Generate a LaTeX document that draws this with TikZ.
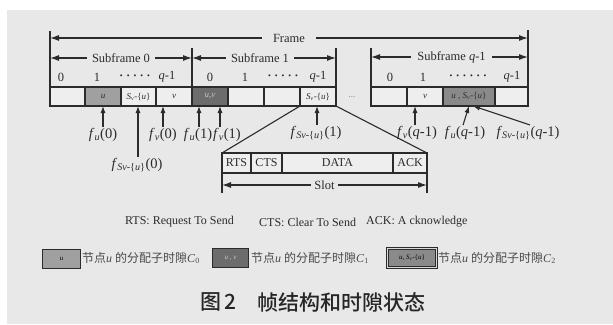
\documentclass[tikz,border=0pt]{standalone}
\usepackage{fontspec}
\setmainfont{Liberation Serif}
\newfontfamily\cjk{Noto Sans CJK SC}
\newfontfamily\cjkm{Noto Sans CJK SC}[UprightFont={* Medium}]
\usetikzlibrary{arrows.meta}
\definecolor{bg}{HTML}{E8E8E8}
\definecolor{ln}{HTML}{2B2B2B}
\definecolor{cellw}{HTML}{EEEEEE}
\definecolor{gA}{HTML}{A0A0A0}
\definecolor{gB}{HTML}{6C6C6C}
\definecolor{gC}{HTML}{8A8A8A}
\definecolor{legtxt}{HTML}{4A4A4A}
\newcommand\Svu{\textit{S}\textsubscript{\textit{v}}-\{\textit{u}\}}
\newcommand\flab[2]{\textit{f}\textsubscript{#1}(#2)}
\newcommand\subSvu{\textit{Sv}-\{\textit{u}\}}
\begin{document}
\begin{tikzpicture}[x=1pt,y=-1pt,
  cell/.style={draw=ln, line width=1.1pt, fill=cellw, anchor=north west,
    minimum height=19pt, inner sep=0pt, outer sep=0pt,
    font=\fontsize{9}{10}\selectfont, text=ln},
  scell/.style={cell, minimum height=20pt, font=\fontsize{12}{13}\selectfont},
  rowlab/.style={font=\fontsize{12.5}{13}\selectfont, text=ln, inner sep=0pt},
  dots/.style={font=\fontsize{8}{9}\selectfont, text=ln, inner sep=0pt},
  flabel/.style={font=\fontsize{14.5}{15}\selectfont, text=ln, inner sep=1pt},
  dimarr/.style={draw=ln, line width=1.1pt, {Latex[length=9pt,width=6pt]}-{Latex[length=9pt,width=6pt]}},
  dimtxt/.style={fill=bg, font=\fontsize{12.5}{13}\selectfont, text=ln, inner ysep=1pt},
  arr/.style={draw=ln, line width=1.1pt, -{Latex[length=7pt,width=5pt]}},
  ln/.style={draw=ln, line width=1.1pt},
  legbox/.style={draw=ln, line width=1pt, anchor=north west, inner sep=0pt,
    minimum height=19pt, font=\fontsize{7}{8}\selectfont},
  legtext/.style={anchor=west, inner sep=0pt, text=legtxt, font=\fontsize{12}{13}\selectfont}
]
\useasboundingbox (0,0) rectangle (613,324);
\fill[white] (0,0) rectangle (613,324);
\fill[bg] (7,10) rectangle (613,324);

% ---- slot row, subframe 0
\node[cell, minimum width=35pt] (c00) at (50,87) {};
\node[cell, minimum width=36pt, fill=gA] (c01) at (85,87) {\textit{u}};
\node[cell, minimum width=35pt] (c02) at (121,87) {\Svu};
\node[cell, minimum width=36pt] (c03) at (156,87) {\textit{v}};
% subframe 1
\node[cell, minimum width=36pt, fill=gB, text=gray!45] (c10) at (192,87) {\textit{u},\textit{v}};
\node[cell, minimum width=36pt] (c11) at (228,87) {};
\node[cell, minimum width=36pt] (c12) at (264,87) {};
\node[cell, minimum width=36pt] (c13) at (300,87) {\Svu};
\node[font=\fontsize{9}{10}\selectfont, text=gray] (gap) at (352,97) {...};
% subframe q-1
\node[cell, minimum width=36pt] (c20) at (371,87) {};
\node[cell, minimum width=36pt] (c21) at (407,87) {\textit{v}};
\node[cell, minimum width=52pt, fill=gC] (c22) at (443,87) {\textit{u} , \Svu};
\node[cell, minimum width=33pt] (c23) at (495,87) {};

% ---- verticals
\draw[ln] (c00.south west) -- (c00.south west |- 0,31);
\draw[ln] (c23.south east) -- (c23.south east |- 0,30);
\draw[ln] (c03.south east) -- (c03.south east |- 0,48);
\draw[ln] (c13.south east) -- (c13.south east |- 0,48);
\draw[ln] (c20.south west) -- (c20.south west |- 0,48);

% ---- frame / subframe arrows
\draw[dimarr] (c00.north west |- 0,38) -- node[dimtxt, inner xsep=11pt] (frame) {Frame} (c23.north east |- 0,38);
\draw[dimarr] (c00.north west |- 0,58) -- node[dimtxt, inner xsep=5pt] (sf0) {Subframe 0} (c03.north east |- 0,58);
\draw[dimarr] (c10.north west |- 0,58) -- node[dimtxt, inner xsep=5pt, xshift=-4pt] (sf1) {Subframe 1} (c13.north east |- 0,58);
\draw[dimarr] (c20.north west |- 0,57) -- node[dimtxt, inner xsep=6pt, xshift=2pt] (sfq) {Subframe \textit{q}-1} (c23.north east |- 0,57);

% ---- row labels
\node[rowlab] (l00) at (61,77) {0};
\node[rowlab] (l01) at (97,77) {1};
\node[dots]   (d0)  at (135,77) {•\hspace{4pt}•\hspace{4pt}•\hspace{4pt}•\hspace{4pt}•};
\node[rowlab] (l03) at (167,77) {\textit{q}-1};
\node[rowlab] (l10) at (210,77) {0};
\node[rowlab] (l11) at (245,77) {1};
\node[dots]   (d1)  at (283,77) {•\hspace{4pt}•\hspace{4pt}•\hspace{4pt}•\hspace{4pt}•};
\node[rowlab] (l13) at (318,77) {\textit{q}-1};
\node[rowlab] (l20) at (390,77) {0};
\node[rowlab] (l21) at (423,77) {1};
\node[dots]   (d2)  at (468,77) {•\hspace{4pt}•\hspace{4pt}•\hspace{4pt}•\hspace{4pt}•\hspace{4pt}•};
\node[rowlab] (l23) at (512,77) {\textit{q}-1};

% ---- f labels and arrows
\node[flabel] (fu0) at (103,135) {\flab{\textit{u}}{0}};
\node[flabel] (fs0) at (137,165) {\flab{\subSvu}{0}};
\node[flabel] (fv0) at (163,135) {\flab{\textit{v}}{0}};
\node[flabel] (fu1) at (198,135) {\flab{\textit{u}}{1}};
\node[flabel] (fv1) at (227,135) {\flab{\textit{v}}{1}};
\node[flabel] (fs1) at (316,133) {\flab{\subSvu}{1}};
\node[flabel] (fvq) at (417,133) {\flab{\textit{v}}{\textit{q}-1}};
\node[flabel] (fuq) at (465,133) {\flab{\textit{u}}{\textit{q}-1}};
\node[flabel] (fsq) at (528,133) {\flab{\subSvu}{\textit{q}-1}};

\draw[arr] (fu0.north) -- (fu0.north |- c01.south);
\draw[arr] ([xshift=1pt]fs0.north) -- ([xshift=1pt]fs0.north |- c02.south);
\draw[arr] (fv0.north) -- (fv0.north |- c03.south);
\draw[arr] ([xshift=1pt]fu1.north) -- ([xshift=1pt]fu1.north |- c10.south);
\draw[arr] ([xshift=-7pt]fv1.north) -- ([xshift=-7pt]fv1.north |- c10.south);
\draw[arr] ([xshift=1pt]fs1.north) -- ([xshift=1pt]fs1.north |- c13.south);
\draw[arr] ([xshift=-2pt]fvq.north) -- ([xshift=-2pt]fvq.north |- c21.south);
\draw[arr] ([xshift=-2pt]fuq.north) -- (c22.south);
\draw[arr] ([xshift=2pt]fsq.north) -- ([xshift=4pt]c22.south);

% ---- slot detail
\node[scell, minimum width=29pt] (rts) at (222,153) {RTS};
\node[scell, minimum width=31pt] (cts) at (251,153) {CTS};
\node[scell, minimum width=111pt] (data) at (282,153) {DATA};
\node[scell, minimum width=34pt] (ack) at (393,153) {ACK};
\draw[ln] (c13.south west) -- (rts.north west);
\draw[ln] (c13.south east) -- (ack.north east);
\draw[ln] (rts.south west) -- (rts.south west |- 0,193);
\draw[ln] (ack.south east) -- (ack.south east |- 0,193);
\draw[dimarr] (rts.south west |- 0,185) -- node[dimtxt, inner xsep=3pt] (slot) {Slot} (ack.south east |- 0,185);

% ---- legend
\node[anchor=west, inner sep=0pt, text=ln, font=\fontsize{12}{13}\selectfont] (lrts) at (125,222) {RTS: Request To Send};
\node[anchor=west, inner sep=0pt, text=ln, font=\fontsize{12}{13}\selectfont] (lcts) at (259,222) {CTS: Clear To Send};
\node[anchor=west, inner sep=0pt, text=ln, font=\fontsize{12}{13}\selectfont] (lack) at (366,222) {ACK: A cknowledge};

\node[legbox, fill=gA, minimum width=38pt] (b1) at (42,249) {\textit{u}};
\node[legtext] (t1) at (82,258) {{\cjk 节点}\textit{u} {\cjk 的分配子时隙}\textit{C}\textsubscript{0}};
\node[legbox, fill=gB, minimum width=36pt, text=gray!40] (b2) at (212,248) {\textit{u} , \textit{v}};
\node[legtext] (t2) at (251,258) {{\cjk 节点}\textit{u} {\cjk 的分配子时隙}\textit{C}\textsubscript{1}};
\node[legbox, fill=gC, minimum width=49pt, double=gray!30, double distance=0.6pt] (b3) at (387,248) {\textit{u}, \Svu};
\node[legtext] (t3) at (438,258) {{\cjk 节点}\textit{u} {\cjk 的分配子时隙}\textit{C}\textsubscript{2}};

% ---- caption
\node[anchor=west, inner sep=0pt, font=\cjkm\fontsize{21}{22}\selectfont, text=black!85] (cap1) at (200,302) {图\,2};
\node[anchor=west, inner sep=0pt, font=\cjkm\fontsize{21}{22}\selectfont, text=black!85] (cap2) at (257,302) {帧结构和时隙状态};
\end{tikzpicture}
\end{document}
